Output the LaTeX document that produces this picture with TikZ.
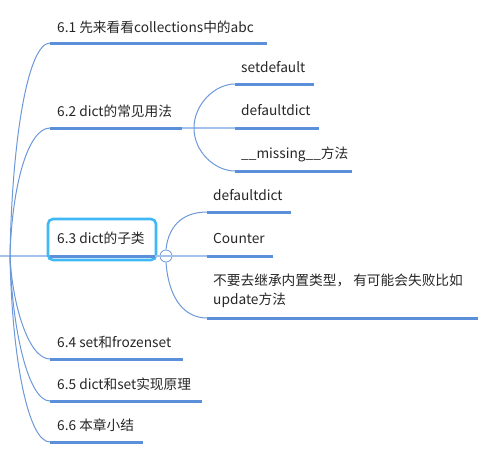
\documentclass[tikz,border=0pt]{standalone}
\usepackage{fontspec}
\setmainfont{Noto Sans CJK SC}
\usetikzlibrary{calc}
\definecolor{uline}{HTML}{5B8FD9}
\definecolor{conn}{HTML}{6C98DA}
\definecolor{lconn}{HTML}{A3C3EC}
\definecolor{sel}{HTML}{40B8F5}
\tikzset{
  ul/.style={draw=uline, line width=3pt},
  cv/.style={draw=conn, line width=1pt},
  st/.style={draw=lconn, line width=1.5pt},
  lbl/.style={anchor=west, inner sep=0pt, font=\fontsize{13.7pt}{19pt}\selectfont, text=black!85},
}
\begin{document}
\begin{tikzpicture}[x=1pt,y=-1pt]
\useasboundingbox (0,0) rectangle (503,451);
% root
\coordinate (root) at (10,256);
\coordinate (rootL) at (0,256);
% main branch underline ends
\coordinate (a1) at (50,43);  \coordinate (b1) at (267,43);
\coordinate (a2) at (50,128); \coordinate (b2) at (182,128);
\coordinate (a3) at (50,256); \coordinate (b3) at (155,256);
\coordinate (a4) at (50,359); \coordinate (b4) at (183,359);
\coordinate (a5) at (50,401); \coordinate (b5) at (202,401);
\coordinate (a6) at (50,442); \coordinate (b6) at (143,442);
% 6.2 children
\coordinate (f2) at (194,128);
\coordinate (c21a) at (235,84);  \coordinate (c21b) at (314,84);
\coordinate (c22a) at (235,128); \coordinate (c22b) at (319,128);
\coordinate (c23a) at (235,171); \coordinate (c23b) at (352,171);
% 6.3 children
\coordinate (c31a) at (207,212); \coordinate (c31b) at (291,212);
\coordinate (c32a) at (207,256); \coordinate (c32b) at (273,256);
\coordinate (c33a) at (207,318); \coordinate (c33b) at (478,318);

% root line
\draw[st] (rootL) -- (a3);
% curves from root
\foreach \t/\s in {a1/0.55, a2/0.55, a4/0.45, a5/0.5, a6/0.55} {
  \draw[cv] (root) .. controls ($(root)!\s!(root|-\t)+(2,0)$) and ($(\t)+(-22,0)$) .. (\t);
}

% selected box 6.3
\node[draw=sel, line width=2.6pt, rounded corners=5pt, minimum width=108pt, minimum height=41pt, inner sep=0pt] (box3) at (102,239.5) {};

% underlines main
\draw[ul] (a1) -- (b1);
\draw[ul] (a2) -- (b2);
\draw[ul] (a3) -- (b3);
\draw[ul] (a4) -- (b4);
\draw[ul] (a5) -- (b5);
\draw[ul] (a6) -- (b6);

% labels main
\node[lbl] (t1) at (57,27) {6.1 先来看看collections中的abc};
\node[lbl] (t2) at (57,111) {6.2 dict的常见用法};
\node[lbl] (t3) at (57,238) {6.3 dict的子类};
\node[lbl] (t4) at (57,342) {6.4 set和frozenset};
\node[lbl] (t5) at (57,384) {6.5 dict和set实现原理};
\node[lbl] (t6) at (57,425) {6.6 本章小结};

% 6.2 fork
\draw[st] (b2) -- (c22a);
\draw[cv] (f2) .. controls +(0,-24) and +(-20,0) .. (c21a);
\draw[cv] (f2) .. controls +(0,24) and +(-20,0) .. (c23a);
\draw[ul] (c21a) -- (c21b);
\draw[ul] (c22a) -- (c22b);
\draw[ul] (c23a) -- (c23b);
\node[lbl] (t21) at (241,67) {setdefault};
\node[lbl] (t22) at (241,110) {defaultdict};
\node[lbl] (t23) at (241,154) {\_\_missing\_\_方法};

% 6.3 fork
\node[circle, draw=conn, fill=white, line width=0.8pt, minimum size=12pt, inner sep=0pt] (col) at (166,256) {};
\draw[st] (b3) -- (col.west);
\draw[st] (col.west) -- (col.east);
\draw[st] (col.east) -- (c32a);
\draw[cv] (col.north) .. controls +(3,-28) and +(-20,0) .. (c31a);
\draw[cv] (col.south) .. controls +(3,40) and +(-20,0) .. (c33a);
\draw[ul] (c31a) -- (c31b);
\draw[ul] (c32a) -- (c32b);
\draw[ul] (c33a) -- (c33b);
\node[lbl] (t31) at (213,195) {defaultdict};
\node[lbl] (t32) at (213,238) {Counter};
\node[lbl, align=left] (t33) at (213,291) {不要去继承内置类型， 有可能会失败比如\\update方法};
\end{tikzpicture}
\end{document}
